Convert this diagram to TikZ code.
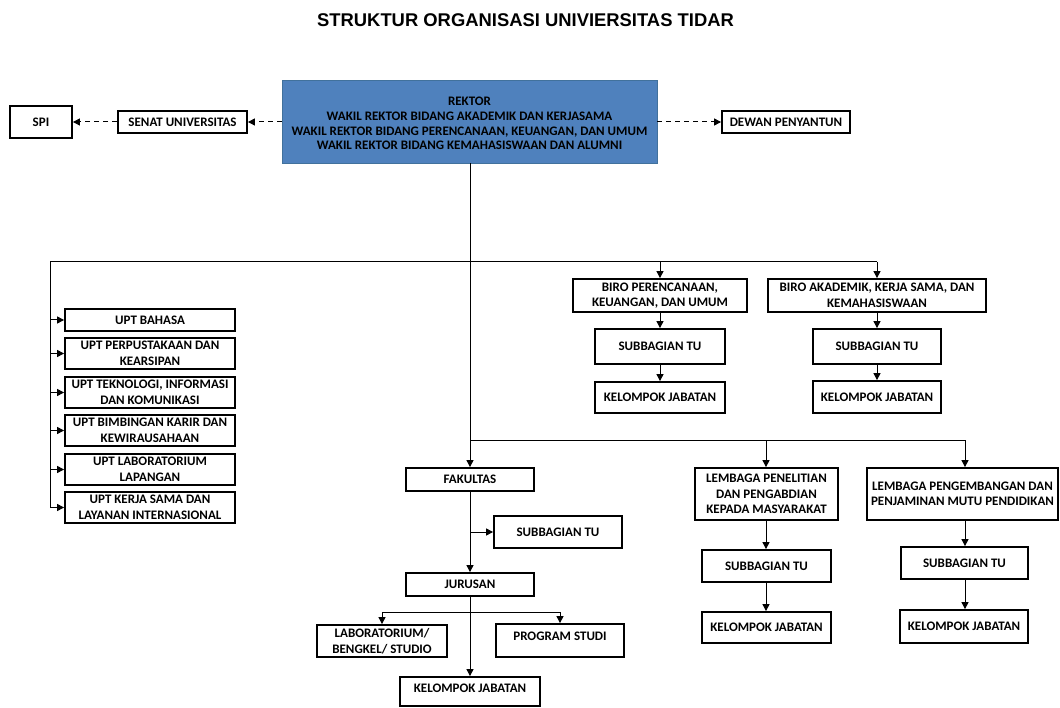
\documentclass[tikz,border=0pt]{standalone}
\usepackage{fontspec}
\setmainfont{Carlito}
\newfontfamily\titlefont{Liberation Sans}
\usetikzlibrary{arrows.meta}
\definecolor{rektorblue}{HTML}{4F81BD}
\definecolor{rektoredge}{HTML}{41719C}
\tikzset{
  x=1pt, y=-1pt,
  orgbox/.style={draw=black, line width=1.8pt, fill=white, inner sep=0pt, align=center,
    font=\fontsize{13}{15.5}\selectfont\bfseries},
  conn/.style={draw=black, line width=1pt, -{Triangle[length=7pt,width=7pt]}},
  plainconn/.style={draw=black, line width=1pt},
  dashconn/.style={draw=black, line width=1pt, dash pattern=on 5pt off 4pt, -{Triangle[length=7pt,width=7pt]}}
}
% \orgnode{name}{x1}{y1}{x2}{y2}{text}
\newcommand{\orgnode}[7][]{%
  \node[orgbox,#1, minimum width={#5-#3}, minimum height={#6-#4}] (#2) at ({(#3+#5)/2},{(#4+#6)/2}) {#7};}
\newcommand{\uptext}[2]{\raisebox{#1}[\height][\depth]{#2}}
\begin{document}
\begin{tikzpicture}
\useasboundingbox (0,0) rectangle (1060,708);
\node[font=\titlefont\fontsize{18.4}{20}\selectfont\bfseries] (title) at (525.5,20) {STRUKTUR ORGANISASI UNIVIERSITAS TIDAR};

\orgnode[fill=rektorblue, draw=rektoredge, line width=0.8pt, font=\fontsize{13}{14.8}\selectfont\bfseries]{rektor}{282}{80}{657}{163}{\uptext{-2pt}{REKTOR}\\\uptext{-2pt}{WAKIL REKTOR BIDANG AKADEMIK DAN KERJASAMA}\\\uptext{-2pt}{WAKIL REKTOR BIDANG PERENCANAAN, KEUANGAN, DAN UMUM}\\\uptext{-2pt}{WAKIL REKTOR BIDANG KEMAHASISWAAN DAN ALUMNI}}
\orgnode{spi}{10}{106}{72}{138}{SPI}
\orgnode{senat}{118}{111}{247}{133}{SENAT UNIVERSITAS}
\orgnode{dewan}{722}{111}{850}{133}{DEWAN PENYANTUN}

\orgnode{upta}{65}{309}{235}{331}{UPT BAHASA}
\orgnode{uptb}{65}{338}{235}{369}{UPT PERPUSTAKAAN DAN\\KEARSIPAN}
\orgnode{uptc}{65}{377}{235}{408}{UPT TEKNOLOGI, INFORMASI\\DAN KOMUNIKASI}
\orgnode{uptd}{65}{415}{235}{446}{UPT BIMBINGAN KARIR DAN\\KEWIRAUSAHAAN}
\orgnode{upte}{65}{454}{235}{485}{UPT LABORATORIUM\\LAPANGAN}
\orgnode{uptf}{65}{492}{235}{523}{UPT KERJA SAMA DAN\\LAYANAN INTERNASIONAL}

\orgnode{biroa}{573}{279}{747}{312}{BIRO PERENCANAAN,\\KEUANGAN, DAN UMUM}
\orgnode{subba}{595}{329}{725}{364}{SUBBAGIAN TU}
\orgnode{kela}{595}{382}{725}{413}{KELOMPOK JABATAN}
\orgnode{birob}{768}{279}{986}{312}{BIRO AKADEMIK, KERJA SAMA, DAN\\KEMAHASISWAAN}
\orgnode{subbb}{813}{329}{941}{364}{SUBBAGIAN TU}
\orgnode{kelb}{813}{381}{941}{413}{KELOMPOK JABATAN}

\orgnode{fak}{406}{468}{534}{491}{FAKULTAS}
\orgnode{subbf}{494}{516}{622}{548}{SUBBAGIAN TU}
\orgnode{jur}{406}{573}{534}{596}{JURUSAN}
\orgnode{lab}{317}{625}{447}{657}{LABORATORIUM/\\BENGKEL/ STUDIO}
\orgnode{prodi}{496}{624}{624}{657}{\uptext{4pt}{PROGRAM STUDI}}
\orgnode{kelf}{400}{677}{540}{706}{\uptext{3pt}{KELOMPOK JABATAN}}

\orgnode{lema}{695}{468}{838}{520}{LEMBAGA PENELITIAN\\DAN PENGABDIAN\\KEPADA MASYARAKAT}
\orgnode{subbc}{702}{550}{831}{582}{SUBBAGIAN TU}
\orgnode{kelc}{702}{612}{831}{643}{KELOMPOK JABATAN}
\orgnode{lemb}{867}{468}{1058}{520}{LEMBAGA PENGEMBANGAN DAN\\PENJAMINAN MUTU PENDIDIKAN}
\orgnode{subbd}{901}{547}{1028}{579}{SUBBAGIAN TU}
\orgnode{keld}{900}{610}{1028}{643}{KELOMPOK JABATAN}

% coordinates for junctions
\coordinate (j1) at (470,262);
\coordinate (jl) at (50,262);
\coordinate (jlb) at (50,508);
\coordinate (jr1) at (660,262);
\coordinate (jr2) at (877,262);
\coordinate (j2) at (470,440);
\coordinate (j2a) at (766,440);
\coordinate (j2b) at (965,440);
\coordinate (jsf) at (470,532);
\coordinate (jbl) at (382,612);
\coordinate (jbr) at (560,612);
\coordinate (jbm) at (470,612);

% dashed links
\draw[dashconn] (senat.east -| rektor.west) -- (senat.east);
\draw[dashconn] (senat.west) -- (spi.east |- senat.west);
\draw[dashconn] (dewan.west -| rektor.east) -- (dewan.west);

% trunk
\draw[conn] (rektor.south -| j1) -- (fak.north -| j1);
\draw[plainconn] (jlb) -- (jl) -- (jr2);
\draw[conn] (jr1) -- (jr1 |- biroa.north);
\draw[conn] (jr2) -- (jr2 |- birob.north);
\foreach \u in {upta,uptb,uptc,uptd,upte,uptf}
  \draw[conn] (\u.west -| jl) -- (\u.west);

\draw[conn] (biroa.south -| jr1) -- (subba.north -| jr1);
\draw[conn] (subba.south -| jr1) -- (kela.north -| jr1);
\draw[conn] (birob.south -| jr2) -- (subbb.north -| jr2);
\draw[conn] (subbb.south -| jr2) -- (kelb.north -| jr2);

% second level
\draw[plainconn] (j2) -- (j2b);
\draw[conn] (j2a) -- (j2a |- lema.north);
\draw[conn] (j2b) -- (j2b |- lemb.north);
\draw[conn] (lema.south -| j2a) -- (subbc.north -| j2a);
\draw[conn] (subbc.south -| j2a) -- (kelc.north -| j2a);
\draw[conn] (lemb.south -| j2b) -- (subbd.north -| j2b);
\draw[conn] (subbd.south -| j2b) -- (keld.north -| j2b);

% faculty
\draw[conn] (fak.south -| jsf) -- (jur.north -| jsf);
\draw[conn] (jsf) -- (subbf.west |- jsf);
\draw[conn] (jur.south -| jbm) -- (kelf.north -| jbm);
\draw[plainconn] (jbl) -- (jbr);
\draw[conn] (jbl) -- (lab.north -| jbl);
\draw[conn] (jbr) -- (prodi.north -| jbr);
\end{tikzpicture}
\end{document}
